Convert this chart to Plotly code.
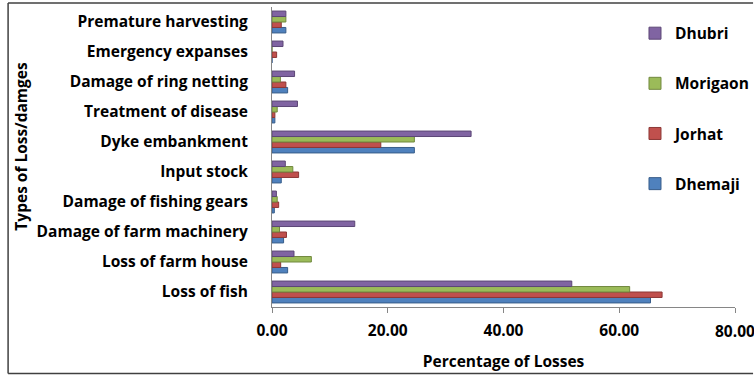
import plotly.graph_objects as go

categories = ["Loss of fish", "Loss of farm house", "Damage of farm machinery",
              "Damage of fishing gears", "Input stock", "Dyke embankment",
              "Treatment of disease", "Damage of ring netting",
              "Emergency expanses", "Premature harvesting"]

dhemaji = [65.4, 2.7, 2.0, 0.4, 1.6, 24.6, 0.5, 2.7, 0.0, 2.4]
jorhat = [67.4, 1.5, 2.5, 1.15, 4.6, 18.8, 0.5, 2.4, 0.8, 1.6]
morigaon = [61.8, 6.8, 1.3, 0.9, 3.6, 24.6, 0.9, 1.45, 0.0, 2.4]
dhubri = [51.8, 3.8, 14.3, 0.76, 2.3, 34.4, 4.4, 3.9, 1.9, 2.4]

x_ticks = [0, 20, 40, 60, 80]
x_tick_labels = ["0.00", "20.00", "40.00", "60.00", "80.00"]

series = [
    ("Dhemaji", dhemaji, "#4F81BD", "#385D8A", 4),
    ("Jorhat", jorhat, "#C0504D", "#8C3836", 3),
    ("Morigaon", morigaon, "#9BBB59", "#71893F", 2),
    ("Dhubri", dhubri, "#8064A2", "#5C4776", 1),
]

FONT = "Open Sans"
FS = 15.5
tf = dict(family=FONT, size=FS, color="black", weight="bold")

fig = go.Figure()
for name, vals, fill, edge, rank in series:
    fig.add_trace(go.Bar(
        y=categories, x=vals, name=name, orientation="h",
        marker=dict(color=fill, line=dict(color=edge, width=1)),
        legendgroup=name, legendrank=rank,
    ))

# last tick label (clipped at the right edge in the original) drawn as annotation
annotations = [dict(x=x_ticks[-1], y=0, xref="x", yref="paper", yshift=-24,
                    text=x_tick_labels[-1], showarrow=False, font=tf,
                    xanchor="center", yanchor="middle")]
annotations.append(dict(x=-0.544, y=0.535, xref="paper", yref="paper",
                        text="Types of Loss/damges", textangle=-90,
                        showarrow=False, font=tf,
                        xanchor="center", yanchor="middle"))

border = dict(color="#404040", width=1.5)
XR = 1.039  # right edge of the page

fig.update_layout(
    width=754, height=375,
    margin=dict(l=272, r=19, t=7, b=68, autoexpand=False),
    paper_bgcolor="white", plot_bgcolor="white",
    barmode="group", bargap=0.27, bargroupgap=0,
    font=tf,
    showlegend=True,
    legend=dict(
        x=0.784, y=0.968, xanchor="left", yanchor="top",
        traceorder="grouped", tracegroupgap=27,
        font=tf, itemwidth=30, bgcolor="rgba(0,0,0,0)",
    ),
    xaxis=dict(
        range=[0, 80], tickvals=x_ticks,
        ticktext=x_tick_labels[:-1] + [""],
        showgrid=False, zeroline=False, automargin=False,
        showline=True, linecolor="#868686", linewidth=1,
        ticks="outside", ticklen=5, tickcolor="#868686",
        ticklabelstandoff=4, tickfont=tf,
        title=dict(text="Percentage of Losses", standoff=16, font=tf),
    ),
    yaxis=dict(
        categoryorder="array", categoryarray=categories,
        showgrid=False, zeroline=False, automargin=False,
        showline=True, linecolor="#868686", linewidth=1,
        ticks="", ticklabelstandoff=20, tickfont=tf,
    ),
    annotations=annotations,
    shapes=[
        dict(type="line", xref="paper", yref="paper", x0=-0.570, x1=XR,
             y0=1.013, y1=1.013, line=border, layer="below"),
        dict(type="line", xref="paper", yref="paper", x0=-0.570, x1=XR,
             y0=-0.222, y1=-0.222, line=border, layer="below"),
        dict(type="line", xref="paper", yref="paper", x0=-0.570, x1=-0.570,
             y0=-0.222, y1=1.013, line=border, layer="below"),
    ],
)

fig.write_html("out.html")
